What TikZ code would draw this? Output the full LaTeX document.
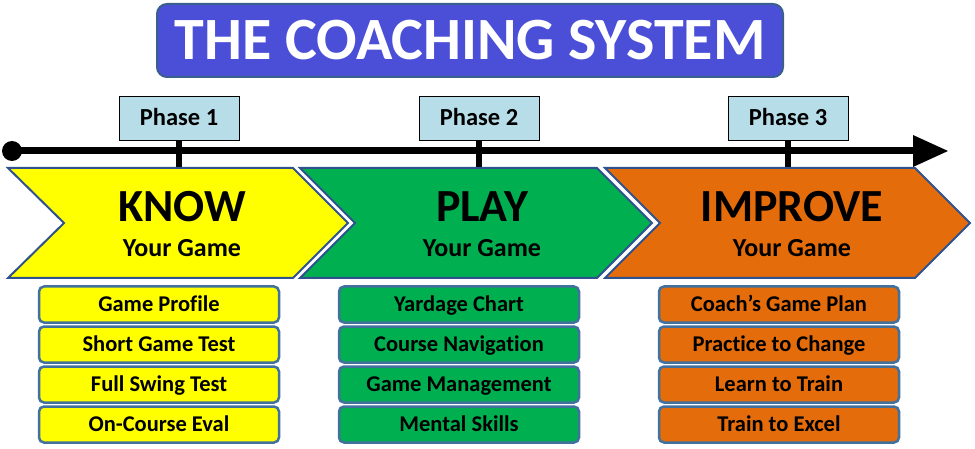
\documentclass[tikz,border=0pt]{standalone}
\usepackage{fontspec}
\setmainfont{Carlito}[Ligatures=NoCommon]
\definecolor{titlefill}{RGB}{75,79,216}
\definecolor{titleedge}{RGB}{58,95,140}
\definecolor{boxedge}{RGB}{65,113,156}
\definecolor{chevedge}{RGB}{47,82,143}
\definecolor{phasefill}{RGB}{183,222,232}
\definecolor{yel}{RGB}{255,255,0}
\definecolor{grn}{RGB}{0,176,80}
\definecolor{org}{RGB}{228,108,10}
\tikzset{
  titlebox/.style={draw=titleedge, line width=2pt, fill=titlefill, rounded corners=10pt,
    minimum width=626pt, minimum height=73pt, text=white, font=\bfseries\fontsize{60}{60}\selectfont, inner sep=0pt},
  phasebox/.style={draw=black, line width=0.8pt, fill=phasefill, minimum width=120pt, minimum height=44pt,
    inner sep=0pt, text height=17pt, text depth=1pt, font=\bfseries\fontsize{24.5}{25}\selectfont},
  tickline/.style={line width=6pt, black},
  timeline/.style={line width=7pt, black},
  chev/.style={draw=chevedge, line width=2pt, line join=miter},
  bigword/.style={font=\bfseries\fontsize{46}{46}\selectfont, anchor=base},
  subword/.style={font=\bfseries\fontsize{26}{26}\selectfont, anchor=base},
  listbox/.style={draw=boxedge, line width=2.5pt, rounded corners=5pt, minimum width=240pt, minimum height=36pt,
    inner sep=0pt, text height=16pt, text depth=2pt, font=\bfseries\fontsize{22.5}{23}\selectfont},
}
\begin{document}
\begin{tikzpicture}[x=1pt,y=-1pt]
\useasboundingbox (0,0) rectangle (975,449);
% title
\node[titlebox] (title) at (470,40.5) {THE COACHING SYSTEM};
% timeline
\coordinate (tstart) at (12,151);
\coordinate (tend) at (913,151);
\coordinate (ttip) at (948,151);
\draw[timeline] (tstart) -- (tend);
\fill (tstart) circle[radius=10pt];
\fill (913,135) -- (ttip) -- (913,167) -- cycle;
% phases
\node[phasebox] (p1) at (179,118) {Phase 1};
\node[phasebox] (p2) at (479,118) {Phase 2};
\node[phasebox] (p3) at (788,118) {Phase 3};
\coordinate (c1) at (179,168);
\coordinate (c2) at (479,168);
\coordinate (c3) at (788,168);
\draw[tickline] (p1.south) -- (c1);
\draw[tickline] (p2.south) -- (c2);
\draw[tickline] (p3.south) -- (c3);
% chevrons
\draw[chev, fill=yel] (8,168) -- (293,168) -- (348,223) -- (293,278) -- (8,278) -- (64,223) -- cycle;
\draw[chev, fill=grn] (300,168) -- (597,168) -- (652,223) -- (597,278) -- (300,278) -- (355,223) -- cycle;
\draw[chev, fill=org] (605,168) -- (915,168) -- (970,223) -- (915,278) -- (605,278) -- (660,223) -- cycle;
% chevron texts
\node[bigword] (know) at (182,222) {KNOW};
\node[subword] (know2) at (182,257) {Your Game};
\node[bigword] (play) at (482,222) {PLAY};
\node[subword] (play2) at (482,257) {Your Game};
\node[bigword] (impr) at (792,222) {IMPROVE};
\node[subword] (impr2) at (792,257) {Your Game};
% lists
\foreach \t [count=\i] in {Game Profile, Short Game Test, Full Swing Test, On-Course Eval}
  \node[listbox, fill=yel] (y\i) at (159,264.5+40*\i) {\t};
\foreach \t [count=\i] in {Yardage Chart, Course Navigation, Game Management, Mental Skills}
  \node[listbox, fill=grn] (g\i) at (459,264.5+40*\i) {\t};
\foreach \t [count=\i] in {Coach’s Game Plan, Practice to Change, Learn to Train, Train to Excel}
  \node[listbox, fill=org] (o\i) at (779,264.5+40*\i) {\t};
\end{tikzpicture}
\end{document}
